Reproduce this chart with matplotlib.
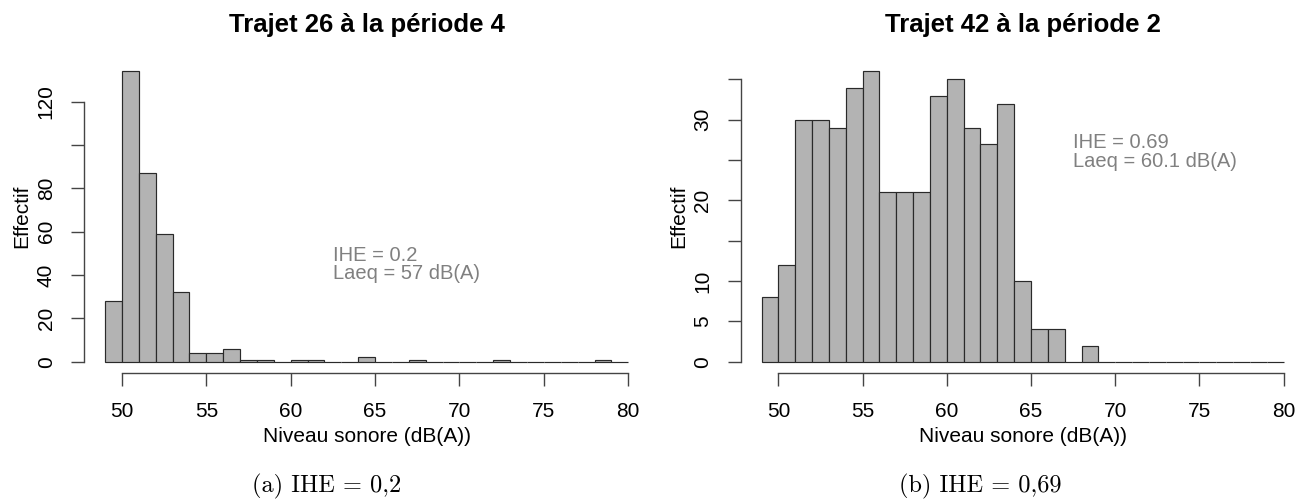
import matplotlib
matplotlib.use("Agg")
import matplotlib.pyplot as plt

# bins are 1 dB(A) wide, left edges 49 .. 79
bin_left = list(range(49, 80))

# Trajet 26, periode 4
counts_a = [28, 134, 87, 59, 32, 4, 4, 6, 1, 1, 0, 1, 1, 0, 0, 2,
            0, 0, 1, 0, 0, 0, 0, 1, 0, 0, 0, 0, 0, 1, 0]
# Trajet 42, periode 2
counts_b = [8, 12, 30, 30, 29, 34, 36, 21, 21, 21, 33, 35, 29, 27, 32, 10,
            4, 4, 0, 2, 0, 0, 0, 0, 0, 0, 0, 0, 0, 0, 0]

titles = ["Trajet 26 à la période 4", "Trajet 42 à la période 2"]
captions = ["(a) IHE = 0,2", "(b) IHE = 0,69"]
notes = [["IHE = 0.2", "Laeq = 57 dB(A)"], ["IHE = 0.69", "Laeq = 60.1 dB(A)"]]

xticks = [50, 55, 60, 65, 70, 75, 80]
yticks_a = [0, 20, 40, 60, 80, 100, 120]
ylabels_a = ["0", "20", "40", "60", "80", "", "120"]
yticks_b = [0, 5, 10, 15, 20, 25, 30, 35]
ylabels_b = ["0", "5", "10", "", "20", "", "30", ""]

plt.rcParams["font.family"] = ["Liberation Sans", "DejaVu Sans"]
axis_col = "#444444"

fig = plt.figure(figsize=(13.07, 5), dpi=100)
ax_a = fig.add_axes([0.0644, 0.2534, 0.4323, 0.627])
ax_b = fig.add_axes([0.5667, 0.2534, 0.4314, 0.627])

panels = [
    (ax_a, counts_a, yticks_a, ylabels_a, (62.5, 46.6, 38.0)),
    (ax_b, counts_b, yticks_b, ylabels_b, (67.5, 26.5, 24.1)),
]

for i, (ax, counts, yt, yl, pos) in enumerate(panels):
    ax.bar(bin_left, counts, width=1, align="edge", color="#b3b3b3",
           edgecolor="#2a2a2a", linewidth=0.85)
    top = max(counts)
    ax.set_xlim(49 - 0.04 * 31, 80 + 0.04 * 31)
    ax.set_ylim(-0.04 * top, top * 1.04)

    for s in ["top", "right"]:
        ax.spines[s].set_visible(False)
    ax.spines["left"].set_bounds(yt[0], yt[-1])
    ax.spines["bottom"].set_bounds(xticks[0], xticks[-1])
    for s in ["left", "bottom"]:
        ax.spines[s].set_color(axis_col)
        ax.spines[s].set_linewidth(1)

    ax.set_xticks(xticks)
    ax.set_xticklabels([str(v) for v in xticks])
    ax.set_yticks(yt)
    ax.set_yticklabels(yl, rotation=90, va="center")
    ax.tick_params(length=9.5, width=1, color=axis_col, labelsize=15, pad=11)

    ax.set_title(titles[i], fontsize=18.5, fontweight="bold", pad=20)
    ax.text(0.5, -0.203, "Niveau sonore (dB(A))", transform=ax.transAxes,
            ha="center", va="center", fontsize=15)
    ax.text(-0.110, 0.5, "Effectif", transform=ax.transAxes, rotation=90,
            ha="center", va="center", fontsize=15)

    x0, y1, y2 = pos
    ax.text(x0, y1, notes[i][0], color="#808080", fontsize=14.5, va="baseline")
    ax.text(x0, y2, notes[i][1], color="#808080", fontsize=14.5, va="baseline")

    fig.text(0.25 + 0.5 * i, 0.016, captions[i], family="cmr10",
             fontsize=17.5, ha="center", va="baseline")

fig.savefig("out.png", dpi=100)
